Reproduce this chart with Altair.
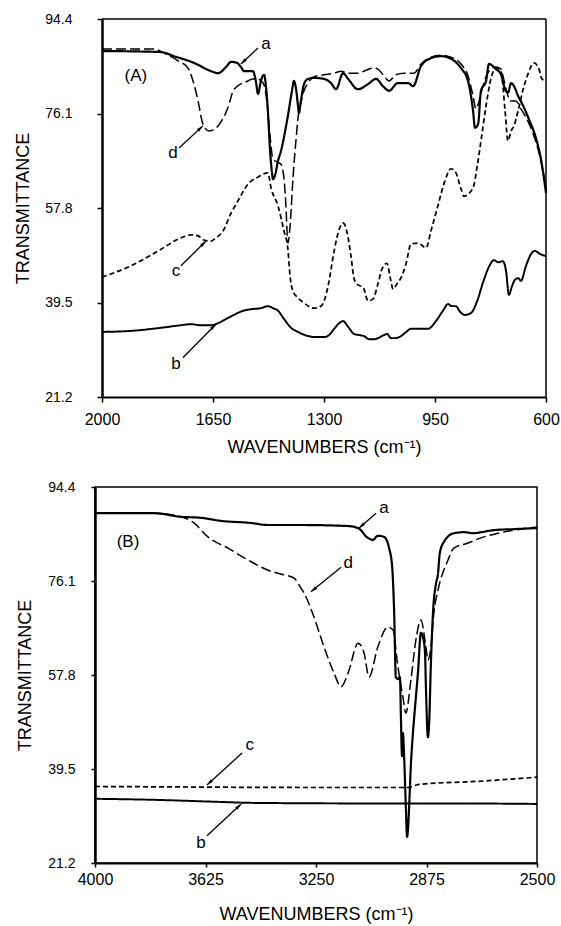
import math
import altair as alt
import pandas as pd

FONT = "Liberation Sans"

# ---------------- Panel A (2000-600 cm-1) ----------------
a_A_wn = [2000,1814,1773,1710,1656,1634,1609,1593,1574,1562,1552,1524,1515,1508,1499,1489,1483,1477,1470,1464,
          1461,1455,1445,1436,1414,1401,1395,1388,1382,1379,1373,1363,1350,1332,1300,1278,1262,1240,1224,1193,
          1161,1136,1114,1095,1067,1035,1019,994,963,931,900,868,846,830,824,814,805,789,780,758,
          742,729,720,710,701,688,672,654,631,616,600]
a_A_T = [88.2,88.0,87.2,85.9,84.3,83.9,85.1,86.1,85.9,85.1,84.3,84.3,82.4,79.9,82.4,83.6,81.4,76.6,68.8,64.6,
         63.4,64.0,66.9,68.8,75.6,80.5,82.4,80.8,77.6,76.2,78.5,81.8,82.8,83.0,82.8,82.0,80.8,83.9,82.8,80.8,
         81.8,82.8,81.4,80.5,82.0,82.0,81.4,85.3,86.8,87.2,86.7,84.9,82.4,76.6,73.3,74.1,80.5,82.4,85.7,84.7,
         83.7,80.8,80.1,82.0,81.4,79.5,77.6,75.0,71.2,67.3,60.7]

b_A_wn = [2000,1909,1814,1751,1719,1688,1656,1634,1609,1584,1555,1530,1499,1477,1461,1445,1426,1404,1382,1350,
          1325,1300,1284,1268,1252,1240,1224,1205,1190,1174,1158,1142,1123,1111,1101,1089,1076,1057,1041,1026,
          994,972,947,925,909,897,884,871,856,836,817,799,780,764,751,736,726,717,707,698,
          688,679,663,647,635,619,600]
b_A_T = [33.8,34.0,34.6,35.1,35.3,35.1,35.1,35.5,36.3,37.1,37.9,38.2,38.4,38.8,38.4,37.9,36.3,34.6,33.8,33.0,
         32.8,32.8,33.2,34.4,35.5,35.9,34.8,33.4,33.2,33.0,32.4,32.4,32.8,33.2,33.4,32.6,32.6,33.0,33.8,34.4,
         34.4,34.4,35.9,37.9,39.2,38.8,38.8,37.7,37.1,37.5,39.8,43.3,46.4,47.7,47.3,47.5,45.6,41.0,42.7,43.9,
         44.2,43.7,46.6,48.9,49.5,48.9,48.5]

c_A_wn = [2000,1899,1823,1751,1719,1697,1679,1656,1641,1619,1593,1571,1540,1508,1477,1467,1445,1426,1414,1407,
          1398,1382,1363,1332,1309,1287,1268,1252,1240,1227,1215,1205,1193,1177,1161,1145,1130,1117,1101,1092,
          1082,1070,1057,1041,1026,1004,978,963,941,919,900,884,868,859,830,817,805,789,773,758,
          742,729,720,710,701,688,672,657,638,622,613,600]
c_A_T = [44.4,46.9,49.5,52.0,52.6,52.4,51.6,51.4,52.0,53.3,56.8,59.2,62.4,63.8,64.6,61.7,58.2,53.3,49.9,44.6,
         41.7,40.4,39.4,38.4,38.8,42.7,49.5,53.7,54.9,53.0,48.5,44.1,42.9,42.5,39.8,40.2,43.1,46.0,47.1,44.6,
         42.1,43.1,44.3,47.1,50.8,51.0,50.1,53.3,58.2,63.0,65.4,64.6,61.5,60.1,61.7,65.9,70.8,77.6,83.0,84.9,
         84.3,76.6,70.8,72.7,73.7,76.6,80.8,83.7,85.9,84.7,82.8,82.4]

d_A_wn = [2000,1836,1804,1760,1729,1713,1697,1682,1663,1634,1603,1584,1540,1524,1511,1492,1480,1470,1461,1448,
          1436,1426,1420,1414,1407,1398,1388,1382,1373,1363,1350,1332,1300,1268,1246,1224,1199,1174,1145,1130,
          1111,1095,1073,1048,1016,994,963,931,900,868,846,830,821,811,799,780,758,742,732,723,
          710,695,679,657,631,616,600]
d_A_T = [88.6,88.6,87.8,86.3,84.9,82.4,78.5,74.1,72.7,73.7,77.2,80.8,82.4,82.8,82.8,82.0,78.5,71.7,67.3,66.7,
         66.3,63.4,58.2,51.0,54.3,63.4,71.2,75.2,78.1,80.5,82.0,83.2,83.6,83.9,84.3,83.9,83.9,84.3,84.9,84.7,
         83.4,82.4,83.6,83.9,83.9,85.7,87.0,87.4,87.0,85.7,83.4,79.5,77.0,78.5,81.4,84.3,85.1,84.7,82.4,80.1,
         78.5,78.5,77.0,74.6,70.4,66.9,61.5]

# ---------------- Panel B (4000-2500 cm-1) ----------------
a_B_wn = [4000,3800,3708,3640,3572,3471,3413,3301,3141,3107,3074,3057,3040,3019,3002,2992,2985,2979,2972,2965,
          2962,2958,2955,2951,2945,2941,2938,2934,2928,2921,2911,2904,2894,2887,2880,2877,2870,2866,2860,2853,
          2843,2836,2830,2816,2782,2748,2714,2690,2646,2578,2500]
a_B_T = [89.3,89.3,88.6,88.4,87.8,87.4,87.0,87.0,86.8,86.4,84.5,84.1,84.9,84.7,82.5,79.2,70.5,57.4,57.0,57.4,
         50.0,42.0,46.5,42.0,32.0,26.3,27.6,32.1,40.3,46.5,53.5,58.2,66.0,65.2,62.1,55.5,45.7,48.5,60.1,69.9,
         75.5,77.5,81.5,83.7,85.4,85.6,85.4,85.6,86.0,86.2,86.4]

b_B_wn = [4000,3800,3580,3460,3100,2800,2500]
b_B_T = [33.7,33.5,33.1,32.9,32.8,32.8,32.7]

c_B_wn = [4000,3700,3300,2940,2900,2700,2500]
c_B_T = [36.1,36.0,35.9,35.9,36.5,37.1,37.9]

d_B_wn = [4000,3800,3708,3664,3617,3549,3481,3413,3359,3325,3301,3291,3257,3223,3189,3165,3141,3107,3087,3070,
          3040,3006,2989,2972,2955,2945,2928,2911,2894,2877,2870,2860,2850,2836,2802,2782,2734,2690,2632,2578,
          2500]
d_B_T = [89.3,89.3,88.6,87.4,84.7,82.5,80.2,78.2,77.3,76.7,74.7,73.8,69.1,63.3,58.2,55.5,58.2,64.0,62.1,57.4,
         63.3,67.1,66.6,59.4,53.5,50.4,56.8,64.6,68.5,63.3,60.7,63.3,69.9,74.3,80.2,82.5,83.5,84.5,85.4,86.0,
         86.6]

# ---------------- annotations ----------------
lab_A_text = ["(A)", "a", "d", "c", "b"]
lab_A_wn = [1893, 1483, 1776, 1767, 1767]
lab_A_T = [83.4, 89.6, 68.5, 45.6, 27.6]
arr_A_wn0 = [1508, 1757, 1751, 1745]
arr_A_T0 = [88.8, 69.4, 46.6, 28.8]
arr_A_wn1 = [1562, 1682, 1672, 1641]
arr_A_T1 = [85.7, 73.7, 51.4, 35.3]

lab_B_text = ["(B)", "a", "d", "c", "b"]
lab_B_wn = [3888, 3019, 3141, 3475, 3640]
lab_B_T = [83.7, 90.3, 79.6, 44.2, 25.1]
arr_B_wn0 = [3046, 3165, 3501, 3620]
arr_B_T0 = [89.3, 78.8, 42.6, 26.5]
arr_B_wn1 = [3104, 3267, 3620, 3504]
arr_B_T1 = [86.4, 74.0, 36.4, 32.7]

y_ticks = [21.2, 39.5, 57.8, 76.1, 94.4]
y_dom = [21.2, 94.4]
x_ticks_A = [2000, 1650, 1300, 950, 600]
x_ticks_B = [4000, 3625, 3250, 2875, 2500]

CURVES = ["a", "b", "c", "d"]
DASHES = {"A": [[1, 0], [1, 0], [5, 3], [10, 4]], "B": [[1, 0], [1, 0], [7, 3], [12, 5]]}
WIDTHS = [2.2, 1.5, 1.8, 1.8]


def spectra(series):
    rows = []
    for name, wns, ts in series:
        for w, t in zip(wns, ts):
            rows.append({"curve": name, "wn": w, "T": t})
    return pd.DataFrame(rows)


def panel(key, data, xdom, xticks, w, h, labels, arrows, ylp, ytp, tick, xlp, xtp, shift=0):
    # shift: the plot frame starts `shift` px right of the panel's left edge
    if shift:
        xs = alt.Scale(domain=xdom, nice=False, zero=False, range=[shift, w])
    else:
        xs = alt.Scale(domain=xdom, nice=False, zero=False)
    ys = alt.Scale(domain=y_dom, nice=False, zero=False)
    xax = alt.Axis(values=xticks, format="d", title="WAVENUMBERS (cm\u207b\u00b9)", grid=False,
                   tickSize=tick, labelPadding=xlp, titlePadding=xtp, labelFontSize=16,
                   domainWidth=2)
    yax_kw = dict(values=y_ticks, format=".1f", title="TRANSMITTANCE", grid=False,
                  tickSize=tick, labelPadding=ylp, titlePadding=ytp, labelFontSize=14,
                  domainWidth=2.5)
    if shift:
        yax_kw["offset"] = -shift
    yax = alt.Axis(**yax_kw)
    lines = alt.Chart(data).mark_line(interpolate="monotone", color="black").encode(
        x=alt.X("wn:Q", scale=xs, axis=xax),
        y=alt.Y("T:Q", scale=ys, axis=yax),
        detail="curve:N",
        order=alt.Order("wn:Q", sort="descending"),
        strokeDash=alt.StrokeDash("curve:N", scale=alt.Scale(domain=CURVES, range=DASHES[key]), legend=None),
        strokeWidth=alt.StrokeWidth("curve:N", scale=alt.Scale(domain=CURVES, range=WIDTHS), legend=None),
    )
    txt_df = pd.DataFrame({"text": labels[0], "wn": labels[1], "T": labels[2]})
    texts = alt.Chart(txt_df).mark_text(font=FONT, fontSize=17, color="black").encode(
        x=alt.X("wn:Q", scale=xs), y=alt.Y("T:Q", scale=ys), text="text:N")
    pxw = (w - shift) / abs(xdom[0] - xdom[1])
    pxt = h / (y_dom[1] - y_dom[0])
    angs = []
    for w0, t0, w1, t1 in zip(*arrows):
        dx = -(w1 - w0) * pxw
        dy = -(t1 - t0) * pxt
        angs.append(math.degrees(math.atan2(dx, -dy)) % 360)
    arr_df = pd.DataFrame({"w0": arrows[0], "t0": arrows[1], "w1": arrows[2], "t1": arrows[3], "ang": angs})
    shafts = alt.Chart(arr_df).mark_rule(color="black", strokeWidth=1.3).encode(
        x=alt.X("w0:Q", scale=xs), y=alt.Y("t0:Q", scale=ys), x2="w1:Q", y2="t1:Q")
    heads = alt.Chart(arr_df).mark_point(shape="M0,0L0.45,1.7L-0.45,1.7Z", filled=True, color="black",
                                         opacity=1, size=60).encode(
        x=alt.X("w1:Q", scale=xs), y=alt.Y("t1:Q", scale=ys), angle=alt.Angle("ang:Q", scale=None))
    layers = [lines, shafts, heads, texts]
    props = dict(width=w, height=h)
    if shift:
        # frame: top and right edges (left and bottom are the axis lines)
        frame_df = pd.DataFrame({"x0": [xdom[0], xdom[1]], "x1": [xdom[1], xdom[1]],
                                 "y0": [y_dom[1], y_dom[0]], "y1": [y_dom[1], y_dom[1]]})
        frame = alt.Chart(frame_df).mark_rule(color="black", strokeWidth=1.5).encode(
            x=alt.X("x0:Q", scale=xs), x2="x1:Q", y=alt.Y("y0:Q", scale=ys), y2="y1:Q")
        layers.append(frame)
        props["view"] = alt.ViewBackground(stroke="transparent")
    return alt.layer(*layers).properties(**props)


dataA = spectra([("a", a_A_wn, a_A_T), ("b", b_A_wn, b_A_T), ("c", c_A_wn, c_A_T), ("d", d_A_wn, d_A_T)])
dataB = spectra([("a", a_B_wn, a_B_T), ("b", b_B_wn, b_B_T), ("c", c_B_wn, c_B_T), ("d", d_B_wn, d_B_T)])

pA = panel("A", dataA, [2000, 600], x_ticks_A, 451, 378,
           (lab_A_text, lab_A_wn, lab_A_T), (arr_A_wn0, arr_A_T0, arr_A_wn1, arr_A_T1),
           ylp=25, ytp=12, tick=5, xlp=9, xtp=11, shift=7)
pB = panel("B", dataB, [4000, 2500], x_ticks_B, 442, 376,
           (lab_B_text, lab_B_wn, lab_B_T), (arr_B_wn0, arr_B_T0, arr_B_wn1, arr_B_T1),
           ylp=16, ytp=13, tick=4, xlp=4, xtp=18)

chart = alt.concat(pA, pB, columns=1, spacing=22).properties(
    padding={"left": 14, "top": 11, "right": 0, "bottom": 0},
    background="white",
).configure_view(stroke="black", strokeWidth=1.5).configure_axis(
    labelFont=FONT, titleFont=FONT, labelColor="black", titleColor="black",
    domainColor="black", tickColor="black", tickWidth=1.5, titleFontSize=18,
    titleFontWeight="normal", labelFlush=False,
)

chart.save("out.html", embed_options={"renderer": "svg", "actions": False})
